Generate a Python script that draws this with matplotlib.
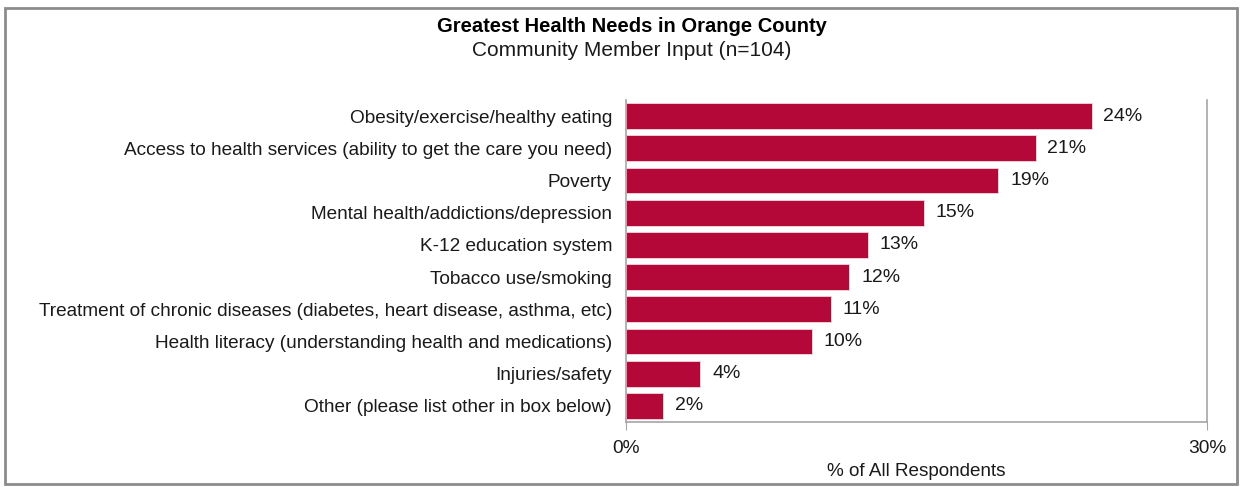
import math
import matplotlib
matplotlib.use('Agg')
import matplotlib.pyplot as plt
from matplotlib.patches import Rectangle

# survey responses (n=104), counts per health need
n_resp = 104
needs = [
    'Obesity/exercise/healthy eating',
    'Access to health services (ability to get the care you need)',
    'Poverty',
    'Mental health/addictions/depression',
    'K-12 education system',
    'Tobacco use/smoking',
    'Treatment of chronic diseases (diabetes, heart disease, asthma, etc)',
    'Health literacy (understanding health and medications)',
    'Injuries/safety',
    'Other (please list other in box below)',
]
counts = [25, 22, 20, 16, 13, 12, 11, 10, 4, 2]
pcts = [c / n_resp * 100 for c in counts]

plt.rcParams['font.family'] = ['Liberation Sans', 'DejaVu Sans']

bar_color = '#B30838'
grey = '#A6A6A6'
txt = '#1a1a1a'

fig = plt.figure(figsize=(12.41, 4.87), dpi=100)
ax = fig.add_axes([626 / 1241, 1 - 422 / 487, 581 / 1241, 322 / 487])

ypos = list(range(len(needs)))
ax.barh(ypos, pcts, height=0.8, color=bar_color, edgecolor='#f2d6de', linewidth=0.6)
ax.set_ylim(len(needs) - 0.5, -0.5)
ax.set_xlim(0, 30)

for y, p in zip(ypos, pcts):
    lab = '%d%%' % math.floor(p + 0.5)
    ax.text(p + 0.6, y, lab, va='center', ha='left', fontsize=14, color=txt)

ax.set_yticks(ypos)
ax.set_yticklabels(needs, fontsize=13.7, color=txt)
ax.tick_params(axis='y', length=0, pad=10)
ax.set_xticks([0, 30])
ax.set_xticklabels(['0%', '30%'], fontsize=13.8, color=txt)
ax.tick_params(axis='x', length=6, color=grey, pad=7)
ax.set_xlabel('% of All Respondents', fontsize=13.6, color=txt, labelpad=4)

ax.spines['top'].set_visible(False)
for s in ['left', 'bottom', 'right']:
    ax.spines[s].set_color(grey)
    ax.spines[s].set_linewidth(1.2)

fig.text(632 / 1241, 1 - 27 / 487, 'Greatest Health Needs in Orange County',
         ha='center', va='center', fontsize=14.5, fontweight='bold', color='black')
fig.text(632 / 1241, 1 - 51 / 487, 'Community Member Input (n=104)',
         ha='center', va='center', fontsize=15, color=txt)

# outer frame
fig.patches.append(Rectangle((5 / 1241, 1 - 484 / 487), 1232 / 1241, 476 / 487,
                             transform=fig.transFigure, fill=False,
                             edgecolor='#8C8C8C', linewidth=2))

fig.savefig('out.png', dpi=100)
